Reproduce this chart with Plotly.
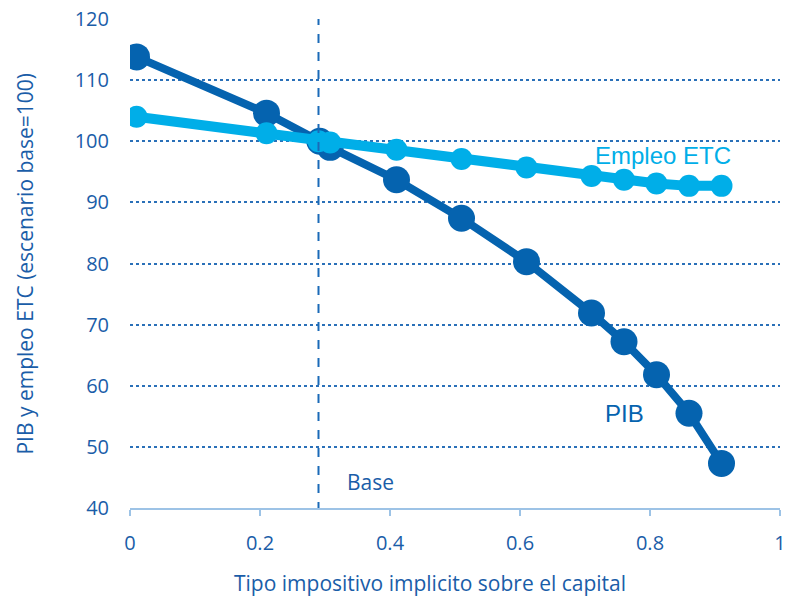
import plotly.graph_objects as go

# Implicit capital tax rate (x) and indices relative to the base scenario (=100)
pib_rate = [0.01, 0.21, 0.292, 0.308, 0.41, 0.51, 0.61, 0.71, 0.76, 0.81, 0.86, 0.91]
pib_index = [113.8, 104.6, 100.0, 99.0, 93.7, 87.4, 80.3, 71.9, 67.2, 61.8, 55.5, 47.3]

emp_rate = [0.01, 0.21, 0.29, 0.308, 0.41, 0.51, 0.61, 0.71, 0.76, 0.81, 0.86, 0.91]
emp_index = [104.0, 101.3, 100.0, 99.8, 98.6, 97.1, 95.7, 94.3, 93.7, 93.1, 92.7, 92.7]

base_rate = 0.29
y_ticks = [40, 50, 60, 70, 80, 90, 100, 110, 120]
x_ticks = [0, 0.2, 0.4, 0.6, 0.8, 1]
x_tick_text = ["0", "0.2", "0.4", "0.6", "0.8", "1"]

DARK = "#0563AF"
LIGHT = "#00AEE8"
TEXT = "#1A5DA8"
GRID = "#2A70B8"
FONT = "Open Sans"

fig = go.Figure()

fig.add_trace(go.Scatter(
    x=pib_rate, y=pib_index, mode="lines+markers", name="PIB",
    line=dict(color=DARK, width=8),
    marker=dict(color=DARK, size=27),
    showlegend=False, hoverinfo="x+y",
))
fig.add_trace(go.Scatter(
    x=emp_rate, y=emp_index, mode="lines+markers", name="Empleo ETC",
    line=dict(color=LIGHT, width=10),
    marker=dict(color=LIGHT, size=22),
    showlegend=False, hoverinfo="x+y",
))

# dashed vertical marker for the base scenario
fig.add_shape(type="line", xref="x", yref="y",
              x0=base_rate, x1=base_rate, y0=39.5, y1=120,
              line=dict(color="#1A6AB8", width=2, dash="dash"))

fig.add_annotation(x=0.82, y=97.6, xref="x", yref="y", text="Empleo ETC",
                   showarrow=False, font=dict(family="Liberation Sans", size=24, color=LIGHT))
fig.add_annotation(x=0.76, y=55.4, xref="x", yref="y", text="PIB",
                   showarrow=False, font=dict(family="Liberation Sans", size=24, color=DARK))
fig.add_annotation(x=0.37, y=44.2, xref="x", yref="y", text="Base",
                   showarrow=False, font=dict(family=FONT, size=21, color=TEXT))

fig.add_annotation(x=-0.163, y=0.5, xref="paper", yref="paper",
                   xanchor="center", yanchor="middle",
                   text="PIB y empleo ETC (escenario base=100)", textangle=-90,
                   showarrow=False, font=dict(family=FONT, size=21, color=TEXT))
fig.add_annotation(x=0.4615, y=-0.153, xref="paper", yref="paper",
                   xanchor="center", yanchor="middle",
                   text="Tipo impositivo implicito sobre el capital",
                   showarrow=False, font=dict(family=FONT, size=21, color=TEXT))

fig.update_layout(
    width=787, height=599,
    margin=dict(l=130, r=7, t=19, b=91, autoexpand=False),
    paper_bgcolor="white", plot_bgcolor="white",
    font=dict(family=FONT, color=TEXT),
)
fig.update_xaxes(
    range=[0, 1], tickvals=x_ticks, ticktext=x_tick_text,
    showgrid=False, zeroline=False, automargin=False,
    showline=True, linecolor="#9DC3E6", linewidth=2,
    ticks="outside", ticklen=6, tickcolor="#9DC3E6", tickwidth=2,
    ticklabelstandoff=10,
    tickfont=dict(family=FONT, size=20, color=TEXT),
)
fig.update_yaxes(
    range=[40, 120], tickvals=y_ticks,
    showgrid=True, gridcolor=GRID, gridwidth=1.5, griddash="dot",
    zeroline=False, showline=False, ticks="", automargin=False,
    ticklabelstandoff=20,
    tickfont=dict(family=FONT, size=20, color=TEXT),
)

fig.write_html("out.html")
